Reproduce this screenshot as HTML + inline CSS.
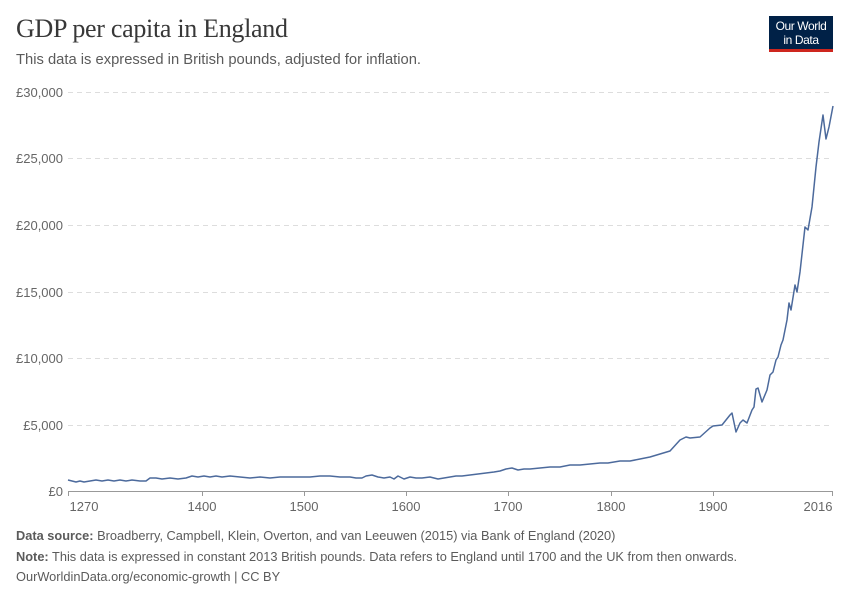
<!DOCTYPE html>
<html><head><meta charset="utf-8"><style>
body{margin:0;background:#fff;font-family:"Liberation Sans",sans-serif;}
.t{position:absolute;left:16px;top:14px;font-family:"Liberation Serif",serif;font-size:26px;color:#383838;letter-spacing:-0.3px}
.s{position:absolute;left:16px;top:52px;font-size:14.75px;color:#5b5b5b}
.logo{position:absolute;left:769px;top:16px;width:64px;height:36px;background:#002147;border-bottom:3px solid #ce261e;color:#fff;font-size:12px;line-height:14px;text-align:center;box-sizing:border-box;display:flex;align-items:center;justify-content:center}
.f{position:absolute;left:16px;font-size:12.8px;color:#5b5b5b}
</style></head><body>
<div class="t">GDP per capita in England</div>
<div class="s">This data is expressed in British pounds, adjusted for inflation.</div>
<div class="logo"><div style="letter-spacing:-0.4px">Our World<br>in Data</div></div>
<svg width="850" height="600" style="position:absolute;left:0;top:0">
<g stroke="#ddd" stroke-dasharray="5,4" stroke-width="1">
<line x1="68" x2="833" y1="92.5" y2="92.5"/><line x1="68" x2="833" y1="158.5" y2="158.5"/><line x1="68" x2="833" y1="225.5" y2="225.5"/><line x1="68" x2="833" y1="292.5" y2="292.5"/><line x1="68" x2="833" y1="358.5" y2="358.5"/><line x1="68" x2="833" y1="425.5" y2="425.5"/>
</g>
<line x1="68" x2="833" y1="491.5" y2="491.5" stroke="#999"/>
<g stroke="#999"><line x1="202.5" x2="202.5" y1="491" y2="496"/><line x1="304.5" x2="304.5" y1="491" y2="496"/><line x1="406.5" x2="406.5" y1="491" y2="496"/><line x1="508.5" x2="508.5" y1="491" y2="496"/><line x1="611.5" x2="611.5" y1="491" y2="496"/><line x1="713.5" x2="713.5" y1="491" y2="496"/><line x1="832.5" x2="832.5" y1="491" y2="496"/><line x1="68.5" x2="68.5" y1="491" y2="496"/></g>
<g font-size="13" fill="#666" text-anchor="end">
<text x="63" y="97">£30,000</text><text x="63" y="163">£25,000</text><text x="63" y="230">£20,000</text><text x="63" y="297">£15,000</text><text x="63" y="363">£10,000</text><text x="63" y="430">£5,000</text><text x="63" y="496">£0</text>
</g>
<g font-size="13" fill="#666" text-anchor="middle">
<text x="84" y="511">1270</text><text x="202" y="511">1400</text><text x="304" y="511">1500</text><text x="406" y="511">1600</text><text x="508" y="511">1700</text><text x="611" y="511">1800</text><text x="713" y="511">1900</text><text x="818" y="511">2016</text>
</g>
<polyline fill="none" stroke="#4c6a9c" stroke-width="1.5" stroke-linejoin="round" points="68,480 72,481 76,482 80,481 84,482 90,481 96,480 102,481 108,480 114,481 120,480 126,481 132,480 140,481 146,481 150,478 156,478 162,479 170,478 178,479 186,478 192,476 198,477 204,476 210,477 216,476 222,477 230,476 240,477 250,478 260,477 270,478 280,477 290,477 300,477 310,477 320,476 330,476 340,477 350,477 356,478 362,478 366,476 372,475 378,477 384,478 390,477 394,479 398,476 404,479 410,477 416,478 422,478 430,477 438,479 444,478 450,477 456,476 462,476 470,475 478,474 486,473 494,472 500,471 506,469 512,468 518,470 524,469 530,469 540,468 550,467 560,467 570,465 580,465 590,464 600,463 608,463 614,462 620,461 630,461 640,459 650,457 660,454 670,451 680,440 686,437 690,438 700,437 710,428 713,426 722,425 730,415 732,413 736,432 740,423 743,420 747,423 752,410 754,407 756,389 758,388 762,402 767,390 770,375 773,372 776,360 778,357 781,345 783,340 787,320 789,303 791,310 795,285 797,292 800,272 805,227 808,230 812,207 816,167 819,142 823,115 826,139 829,127 833,106"/>
</svg>
<div class="f" style="top:528px"><b>Data source:</b> Broadberry, Campbell, Klein, Overton, and van Leeuwen (2015) via Bank of England (2020)</div>
<div class="f" style="top:549px"><b>Note:</b> This data is expressed in constant 2013 British pounds. Data refers to England until 1700 and the UK from then onwards.</div>
<div class="f" style="top:569px">OurWorldinData.org/economic-growth | CC BY</div>
</body></html>
